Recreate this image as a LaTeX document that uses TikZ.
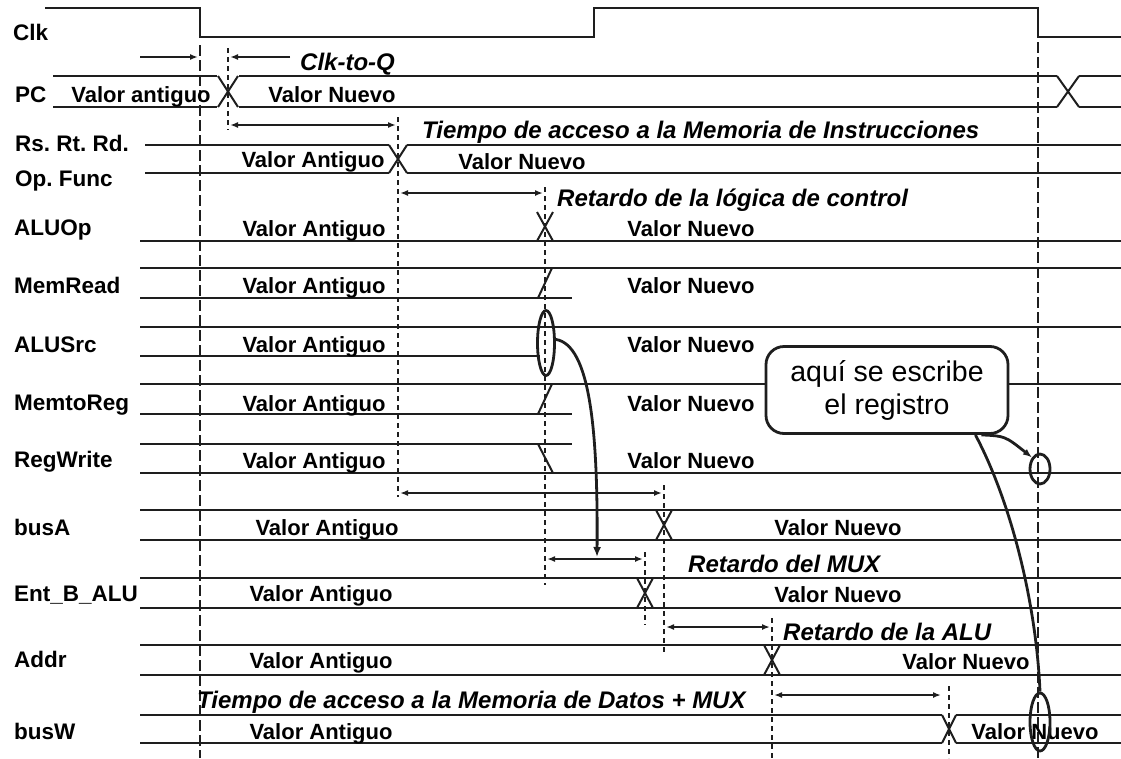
\documentclass[tikz,border=0pt]{standalone}
\usepackage{fontspec}
\setmainfont{Liberation Sans}
\usetikzlibrary{arrows.meta,shapes.geometric}
\definecolor{ink}{HTML}{1E1E1E}
\frenchspacing

\begin{document}
\begin{tikzpicture}[x=1pt,y=-1pt,
    sig/.style={ink,line width=2.7pt},
    xing/.style={ink,line width=2pt},
    edgeline/.style={ink,line width=2.6pt,dash pattern=on 11pt off 4pt},
    tickline/.style={ink,line width=2.8pt,dash pattern=on 5pt off 4pt},
    span/.style={ink,line width=1.8pt,{Latex[length=8pt,width=6pt]}-{Latex[length=8pt,width=6pt]}},
    halfspan/.style={ink,line width=1.8pt,-{Latex[length=8pt,width=6pt]}},
    signame/.style={font=\fontsize{22.5}{24}\selectfont\bfseries,inner sep=0pt,anchor=base west},
    val/.style={font=\fontsize{22}{24}\selectfont\bfseries,inner sep=0pt,anchor=base},
    note/.style={font=\fontsize{24}{26}\selectfont\bfseries\itshape,inner sep=0pt,anchor=base west},
    ring/.style={ellipse,draw=ink,line width=2.8pt,inner sep=0pt}]
  \useasboundingbox (0,0) rectangle (1121,758);
  % reloj
  \draw[sig] (45,8) -- (200,8) -- (200,37) -- (594,37) -- (594,8) -- (1038,8) -- (1038,37) -- (1121,37);
  % PC y registros de instruccion
  \draw[sig] (53,76) -- (217,76) (239,76) -- (1057,76) (1079,76) -- (1121,76);
  \draw[sig] (53,107) -- (217,107) (239,107) -- (1057,107) (1079,107) -- (1121,107);
  \draw[xing] (218,76) -- (238,107) (218,107) -- (238,76);
  \draw[xing] (1057,76) -- (1079,107) (1057,107) -- (1079,76);
  \draw[sig] (145,145) -- (389,145) (407,145) -- (1121,145);
  \draw[sig] (145,173) -- (389,173) (407,173) -- (1121,173);
  \draw[xing] (389,145) -- (407,173) (389,173) -- (407,145);
  % senales de control y buses
  \foreach \y in {241,268,327,384,473,510,540,578,608,645,675}
    \draw[sig] (140,\y) -- (1121,\y);
  \foreach \y in {298,414,444}
    \draw[sig] (140,\y) -- (572,\y);
  \draw[sig] (140,356) -- (540,356);
  \draw[sig] (140,715) -- (942,715) (956,715) -- (1121,715);
  \draw[sig] (140,743) -- (942,743) (956,743) -- (1121,743);
  \draw[xing] (537,212) -- (553,241) (537,241) -- (553,212);
  \draw[xing] (538,298) -- (552,268);
  \draw[xing] (538,414) -- (552,384);
  \draw[xing] (538,444) -- (553,473);
  \draw[xing] (656,510) -- (672,540) (656,540) -- (672,510);
  \draw[xing] (637,578) -- (653,608) (637,608) -- (653,578);
  \draw[xing] (764,645) -- (780,675) (764,675) -- (780,645);
  \draw[xing] (942,715) -- (956,743) (942,743) -- (956,715);
  % marcas de tiempo
  \draw[edgeline] (200,45) -- (200,758);
  \draw[edgeline] (1038,42) -- (1038,758);
  \draw[tickline] (228,48) -- (228,130);
  \draw[tickline] (398,117) -- (398,497);
  \draw[tickline] (545,187) -- (545,585);
  \draw[tickline] (645,552) -- (645,625);
  \draw[tickline] (664,485) -- (664,655);
  \draw[tickline] (772,618) -- (772,758);
  \draw[tickline] (949,686) -- (949,758);
  \draw[halfspan] (140,57) -- (198,57);
  \draw[halfspan] (290,57) -- (230,57);
  \draw[span] (230,125) -- (396,125);
  \draw[span] (400,193) -- (543,193);
  \draw[span] (400,493) -- (662,493);
  \draw[span] (547,559) -- (643,559);
  \draw[span] (666,627) -- (770,627);
  \draw[span] (774,695) -- (941,695);
  % nombres
  \node[signame] (lclk) at (13,40) {Clk};
  \node[signame] (lpc) at (15,102) {PC};
  \node[signame] (lrs) at (15,151) {Rs. Rt. Rd.};
  \node[signame] (lop) at (15,186) {Op. Func};
  \node[signame] (laluop) at (14,235) {ALUOp};
  \node[signame] (lmemrd) at (14,293) {MemRead};
  \node[signame] (lalusrc) at (14,352) {ALUSrc};
  \node[signame] (lmemtoreg) at (14,410) {MemtoReg};
  \node[signame] (lregwr) at (14,467) {RegWrite};
  \node[signame] (lbusa) at (14,535) {busA};
  \node[signame] (lentb) at (14,601) {Ent\_B\_ALU};
  \node[signame] (laddr) at (14,667) {Addr};
  \node[signame] (lbusw) at (14,739) {busW};
  % valores
  \node[val] (pcold) at (141,102) {Valor antiguo};
  \node[val] (pcnew) at (332,102) {Valor Nuevo};
  \node[val] (rsold) at (313,167) {Valor Antiguo};
  \node[val] (rsnew) at (522,169) {Valor Nuevo};
  \foreach \y/\n in {236/aluop,293/memrd,352/alusrc,411/memtoreg,468/regwr} {
    \node[val] (\n old) at (314,\y) {Valor Antiguo};
    \node[val] (\n new) at (691,\y) {Valor Nuevo};
  }
  \node[val] (busaold) at (327,535) {Valor Antiguo};
  \node[val] (busanew) at (838,535) {Valor Nuevo};
  \node[val] (entbold) at (321,601) {Valor Antiguo};
  \node[val] (entbnew) at (838,602) {Valor Nuevo};
  \node[val] (addrold) at (321,668) {Valor Antiguo};
  \node[val] (addrnew) at (966,669) {Valor Nuevo};
  \node[val] (buswold) at (321,739) {Valor Antiguo};
  \node[val] (buswnew) at (1035,739) {Valor Nuevo};
  % retardos
  \node[note] (tclkq) at (300,70) {Clk-to-Q};
  \node[note] (timem) at (422,138) {Tiempo de acceso a la Memoria de Instrucciones};
  \node[note] (tctrl) at (557,206) {Retardo de la lógica de control};
  \node[note] (tmux) at (688,572) {Retardo del MUX};
  \node[note] (talu) at (783,640) {Retardo de la ALU};
  \node[note] (tdmem) at (197,708) {Tiempo de acceso a la Memoria de Datos + MUX};
  % escritura del registro
  \node[ring,minimum width=17pt,minimum height=65pt] (srcring) at (546,343) {};
  \node[ring,minimum width=20pt,minimum height=30pt] (wring) at (1040,469) {};
  \node[ring,minimum width=20pt,minimum height=58pt] (bwring) at (1040,722) {};
  \node[draw=ink,line width=2.8pt,rounded corners=18pt,fill=white,minimum width=242pt,minimum height=87pt,
    align=center,font=\fontsize{28.5}{33}\selectfont] (callout) at (887,390) {aquí se escribe\\el registro};
  \coordinate (muxtip) at (597,557);
  \draw[ink,line width=2.8pt,-{Latex[length=10pt,width=8pt]}] (srcring.20) .. controls (590,345) and (598,430) .. (muxtip);
  \draw[ink,line width=2.8pt,-{Latex[length=9pt,width=7pt]}] ([xshift=-28pt]callout.south east) .. controls (1005,436) .. (wring.north west);
  \draw[ink,line width=2.8pt] ([xshift=-34pt]callout.south east) .. controls (1010,500) and (1036,600) .. (bwring.north);
\end{tikzpicture}
\end{document}
